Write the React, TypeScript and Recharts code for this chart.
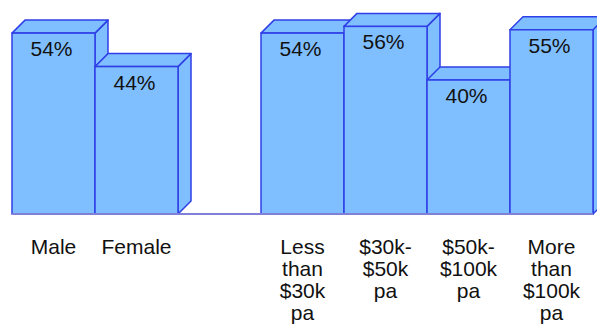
import { BarChart, Bar, XAxis, YAxis, LabelList } from "recharts";

// categories (line breaks as drawn under each bar); empty slot separates the two groups
const categories = [
  "Male",
  "Female",
  "",
  "Less\nthan\n$30k\npa",
  "$30k-\n$50k\npa",
  "$50k-\n$100k\npa",
  "More\nthan\n$100k\npa",
];
const shares = [54, 44, null, 54, 56, 40, 55];

const FILL = "#80bfff";
const EDGE = "#2f3fe6";
const FONT = "'Liberation Sans', Arial, Helvetica, sans-serif";
const DEPTH = 13;

const data = categories.map((name, i) => ({ name, value: shares[i] }));

// front face + top + right side, drawn left to right so later bars cover earlier sides
function Box3D(props: any) {
  const { x, y, width, height, value } = props;
  if (value == null || !height) return null;
  const d = DEPTH;
  const top = `M${x},${y} L${x + d},${y - d} L${x + width + d},${y - d} L${x + width},${y} Z`;
  const side = `M${x + width},${y} L${x + width + d},${y - d} L${x + width + d},${y + height - d} L${x + width},${y + height} Z`;
  return (
    <g>
      <path d={side} fill={FILL} stroke={EDGE} strokeWidth={1.5} strokeLinejoin="round" />
      <path d={top} fill={FILL} stroke={EDGE} strokeWidth={1.5} strokeLinejoin="round" />
      <rect x={x} y={y} width={width} height={height} fill={FILL} stroke={EDGE} strokeWidth={1.5} />
    </g>
  );
}

function ValueLabel(props: any) {
  const { x, y, width, value } = props;
  if (value == null) return null;
  return (
    <text
      x={x + width / 2 - 2}
      y={y + 23}
      textAnchor="middle"
      fontFamily={FONT}
      fontSize={21}
      fill="#111"
    >
      {`${value}%`}
    </text>
  );
}

function CategoryTick(props: any) {
  const { x, y, payload } = props;
  const lines = String(payload.value).split("\n");
  return (
    <text textAnchor="middle" fontFamily={FONT} fontSize={21} fill="#111">
      {lines.map((line, i) => (
        <tspan key={i} x={x} y={y + 40 + i * 22}>
          {line}
        </tspan>
      ))}
    </text>
  );
}

export default function App() {
  return (
    <div style={{ position: "absolute", left: 0, top: 0, background: "#fff" }}>
      <BarChart
        width={597}
        height={329}
        data={data}
        margin={{ top: 13, right: 4, bottom: 0, left: 12 }}
        barCategoryGap={0}
        barGap={0}
      >
        <XAxis
          dataKey="name"
          interval={0}
          height={115}
          tickLine={false}
          tickSize={0}
          tickMargin={0}
          axisLine={{ stroke: "#8080d8", strokeWidth: 2 }}
          tick={<CategoryTick />}
        />
        <YAxis hide domain={[0, 60]} />
        <Bar dataKey="value" shape={<Box3D />} isAnimationActive={false}>
          <LabelList dataKey="value" content={<ValueLabel />} />
        </Bar>
      </BarChart>
    </div>
  );
}
